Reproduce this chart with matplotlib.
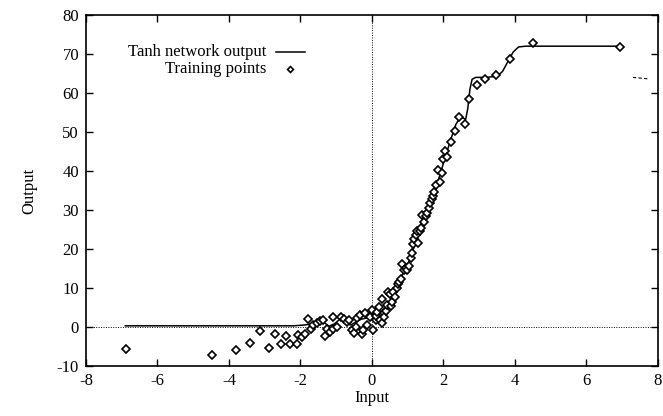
import matplotlib
matplotlib.use("Agg")
import matplotlib.pyplot as plt

plt.rcParams['font.family'] = ['Liberation Serif', 'DejaVu Serif']
plt.rcParams['axes.unicode_minus'] = False

# Training points
train_x = [-6.88, -4.48, -3.81, -3.40, -3.12, -2.89, -2.70, -2.54, -2.41, -2.28, -2.09,
           -2.06, -1.97, -1.87, -1.79, -1.71, -1.64, -1.53, -1.44, -1.36, -1.31, -1.25,
           -1.17, -1.10, -1.08, -0.99, -0.87, -0.78, -0.71, -0.63, -0.57, -0.50, -0.45,
           -0.43, -0.34, -0.29, -0.24, -0.20, -0.13, -0.05, -0.01, 0.04, 0.10, 0.12, 0.15,
           0.20, 0.22, 0.27,
           0.29, 0.33, 0.35, 0.38, 0.41, 0.46, 0.50, 0.53, 0.55, 0.60, 0.64, 0.69, 0.72,
           0.76, 0.81, 0.85,
           0.90, 0.94, 0.98, 1.03, 1.09, 1.12, 1.16, 1.18, 1.22, 1.26, 1.28, 1.34, 1.38,
           1.41, 1.46, 1.50, 1.53, 1.59, 1.62, 1.67, 1.70,
           1.74, 1.78, 1.84, 1.90, 1.95, 2.00, 2.05, 2.11, 2.20, 2.32, 2.44, 2.60, 2.72,
           2.93, 3.16, 3.46, 3.86, 4.51, 6.94]
train_y = [-5.6, -7.2, -5.8, -4.1, -1.1, -5.3, -1.8, -4.3, -2.3, -4.3, -4.3,
           -2.1, -2.6, -1.9, 2.0, -0.6, 0.5, 1.1, 1.6, 1.8, -2.3, -0.6,
           -1.2, -0.6, 2.5, 0.1, 2.5, 2.0, 1.4, 1.8, -0.8, -1.6, -0.1,
           2.2, 3.1, -1.9, -0.8, 3.5, 0.5, 2.5, 4.4, -0.8, 1.8, 2.8, 3.9,
           5.2, 1.8, 0.9,
           7.1, 3.5, 2.5, 4.2, 5.6, 9.1, 8.5, 5.4, 6.5, 9.1, 7.8, 10.1, 11.0,
           11.6, 12.2, 16.1,
           14.6, 15.1, 14.5, 15.6, 17.6, 19.0, 21.2, 22.5, 23.6, 24.5, 21.6, 24.7, 25.5,
           28.7, 27.0, 28.5, 29.3, 30.6, 31.8, 32.7, 33.5,
           34.7, 36.5, 40.3, 37.1, 39.5, 43.1, 45.0, 43.7, 47.5, 50.3, 53.9, 52.1, 58.5,
           62.1, 63.7, 64.5, 68.7, 72.7, 71.9]

# Network output curve (traced)
net_x = [-6.9, -2.2, -1.9, -1.7, -1.5, -1.35, -1.2, -1.05, -0.9, -0.75, -0.6, -0.45,
         -0.3, -0.15, 0.0, 0.15, 0.3, 0.45, 0.6, 0.8, 1.0, 1.2, 1.4, 1.6, 1.8, 2.0,
         2.2, 2.35, 2.45, 2.55, 2.62, 2.68, 2.74, 2.8, 2.9, 3.2, 3.5, 3.65, 3.8, 3.95,
         4.1, 4.3, 6.94]
net_y = [0.3, 0.3, 0.5, 0.8, 1.5, 1.2, 0.2, 0.8, 2.0, 1.2, 0.5, 1.3,
         2.0, 2.3, 3.0, 3.4, 4.0, 5.5, 8.5, 12.5, 16.0, 21.0, 26.0, 31.0, 36.0, 42.0,
         48.0, 52.0, 53.5, 53.6, 53.2, 56.0, 61.0, 63.5, 64.0, 64.0, 64.3, 65.5, 68.0, 70.5,
         71.8, 72.0, 72.0]

# small stray stroke at the right edge
stray_x = [7.3, 7.75]
stray_y = [64.0, 63.6]

x_ticks = [-8, -6, -4, -2, 0, 2, 4, 6, 8]
y_ticks = [-10, 0, 10, 20, 30, 40, 50, 60, 70, 80]

fig = plt.figure(figsize=(6.63, 4.16), dpi=100)
ax = fig.add_axes([0.1297, 0.1202, 0.8627, 0.8438])

ax.axhline(0, color='k', lw=0.7, ls=(0, (1, 1.5)))
ax.axvline(0, color='k', lw=0.7, ls=(0, (1, 1.5)))

ax.plot(net_x, net_y, color='k', lw=1.1)
ax.plot(train_x, train_y, ls='none', marker='D', ms=4.0, mfc='white',
        mec='k', mew=1.2)
ax.plot(stray_x, stray_y, color='k', lw=0.8, ls=(0, (3, 2)))

ax.set_xlim(-8, 8)
ax.set_ylim(-10, 80)
ax.set_xticks(x_ticks)
ax.set_yticks(y_ticks)
ax.tick_params(direction='in', length=5, width=1, top=True, right=True,
               labelsize=12, pad=5)
for s in ax.spines.values():
    s.set_linewidth(1.2)

ax.set_xlabel('Input', fontsize=12, labelpad=1)
ax.set_ylabel('Output', fontsize=12, labelpad=14)

# legend (gnuplot style, right aligned text)
ax.text(0.315, 0.895, 'Tanh network output', transform=ax.transAxes,
        ha='right', va='center', fontsize=12)
ax.text(0.315, 0.845, 'Training points', transform=ax.transAxes,
        ha='right', va='center', fontsize=12)
ax.plot([0.332, 0.383], [0.895, 0.895], transform=ax.transAxes, color='k', lw=1.1)
ax.plot([0.357], [0.845], transform=ax.transAxes, ls='none', marker='D', ms=3.0,
        mfc='white', mec='k', mew=1.2)

fig.savefig('out.png', dpi=100)
